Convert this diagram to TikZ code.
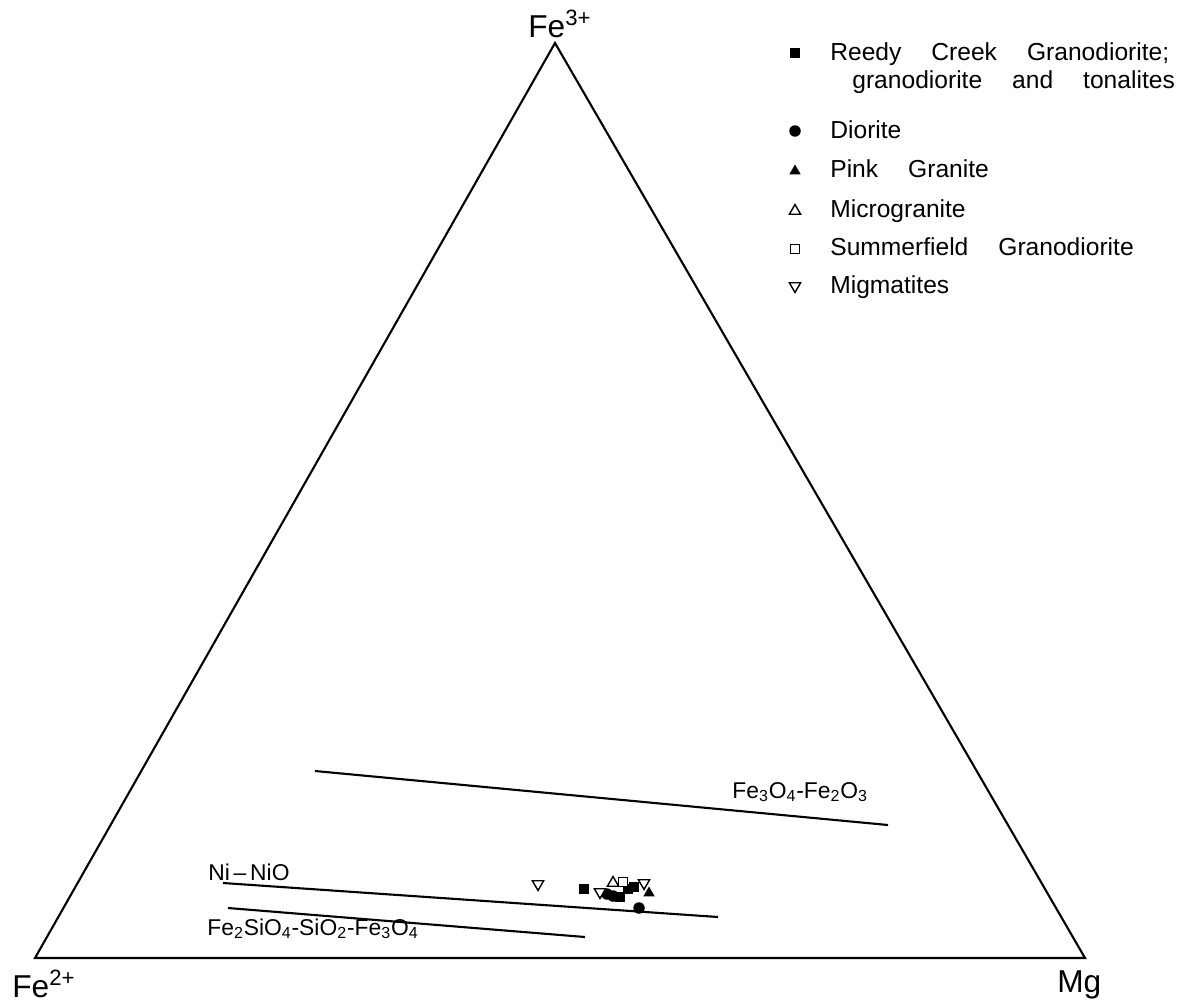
\documentclass[tikz,border=0pt]{standalone}
\usepackage{fontspec}
\setmainfont{Liberation Sans}
\usetikzlibrary{positioning,shapes.geometric}
\newcommand{\keyfont}{\fontsize{14}{16}\selectfont\spaceskip=0.6cm\relax}
\tikzset{
	fsq/.style={rectangle,fill=black,minimum size=0.19cm,inner sep=0pt},
	osq/.style={rectangle,draw=black,fill=white,line width=0.8pt,minimum size=0.17cm,inner sep=0pt},
	fdot/.style={circle,fill=black,minimum size=0.23cm,inner sep=0pt},
	ftri/.style={regular polygon,regular polygon sides=3,fill=black,minimum size=0.26cm,inner sep=0pt},
	otri/.style={regular polygon,regular polygon sides=3,draw=black,fill=white,line width=0.8pt,minimum size=0.26cm,inner sep=0pt},
	odtri/.style={otri,shape border rotate=180},
	keytext/.style={anchor=base west,inner sep=0pt,font=\keyfont},
	linetext/.style={anchor=base west,inner sep=0pt,font=\fontsize{13}{15}\selectfont},
	corner/.style={anchor=base west,inner sep=0pt,font=\fontsize{18}{20}\selectfont},
	buffer/.style={line width=1.2pt}
}
\begin{document}
\begin{tikzpicture}[x=0.02cm,y=-0.02cm]
		\useasboundingbox (0,0) rectangle (1197,1004);
		% triangle
		\coordinate (fe2) at (35,958);
		\coordinate (mg) at (1085,958);
		\coordinate (fe3) at (555,43);
		\draw[line width=1.2pt,line join=miter] (fe2) -- (mg) -- (fe3) -- cycle;
		\node[corner] (lfe3) at (528,37) {Fe\textsuperscript{3+}};
		\node[corner] (lfe2) at (12,997) {Fe\textsuperscript{2+}};
		\node[corner] (lmg) at (1057,992) {Mg};
		% buffer lines
		\coordinate (hm1) at (315,771);
		\coordinate (hm2) at (888,825);
		\coordinate (nno1) at (223,883);
		\coordinate (nno2) at (718,917);
		\coordinate (qfm1) at (228,908);
		\coordinate (qfm2) at (585,937);
		\draw[buffer] (hm1) -- (hm2);
		\draw[buffer] (nno1) -- (nno2);
		\draw[buffer] (qfm1) -- (qfm2);
		\node[linetext] (lhm) at (732,798) {Fe\textsubscript{3}O\textsubscript{4}-Fe\textsubscript{2}O\textsubscript{3}};
		\node[linetext] (lnno) at (208,880) {Ni\,–\,NiO};
		\node[linetext] (lqfm) at (207,935) {Fe\textsubscript{2}SiO\textsubscript{4}-SiO\textsubscript{2}-Fe\textsubscript{3}O\textsubscript{4}};
		% samples
		\node[fsq] (s1) at (584,889) {};
		\node[fdot] (s2) at (607,894) {};
		\node[fdot] (s3) at (613,896) {};
		\node[fsq] (s4) at (620,897) {};
		\node[fsq] (s5) at (628,889) {};
		\node[fsq] (s6) at (634,887) {};
		\node[ftri] (s7) at (649,893) {};
		\node[fdot] (s8) at (639,908) {};
		\node[odtri] (s9) at (538,884) {};
		\node[odtri] (s10) at (600,892) {};
		\node[otri] (s11) at (613,883) {};
		\node[osq] (s12) at (623,882) {};
		\node[odtri] (s13) at (644,883) {};
		% key
		\node[fsq] (k1) at (795,53) {};
		\node[keytext] (t1) at (830,60) {Reedy Creek Granodiorite;};
		\node[keytext] (t1b) at (852,88) {granodiorite and tonalites};
		\node[fdot] (k2) at (795,131) {};
		\node[keytext] (t2) at (830,138) {Diorite};
		\node[ftri] (k3) at (795,171) {};
		\node[keytext] (t3) at (830,177) {Pink Granite};
		\node[otri] (k4) at (795,211) {};
		\node[keytext] (t4) at (830,217) {Microgranite};
		\node[osq] (k5) at (795,249) {};
		\node[keytext] (t5) at (830,255) {Summerfield Granodiorite};
		\node[odtri] (k6) at (795,286) {};
		\node[keytext] (t6) at (830,293) {Migmatites};
	\end{tikzpicture}
\end{document}
